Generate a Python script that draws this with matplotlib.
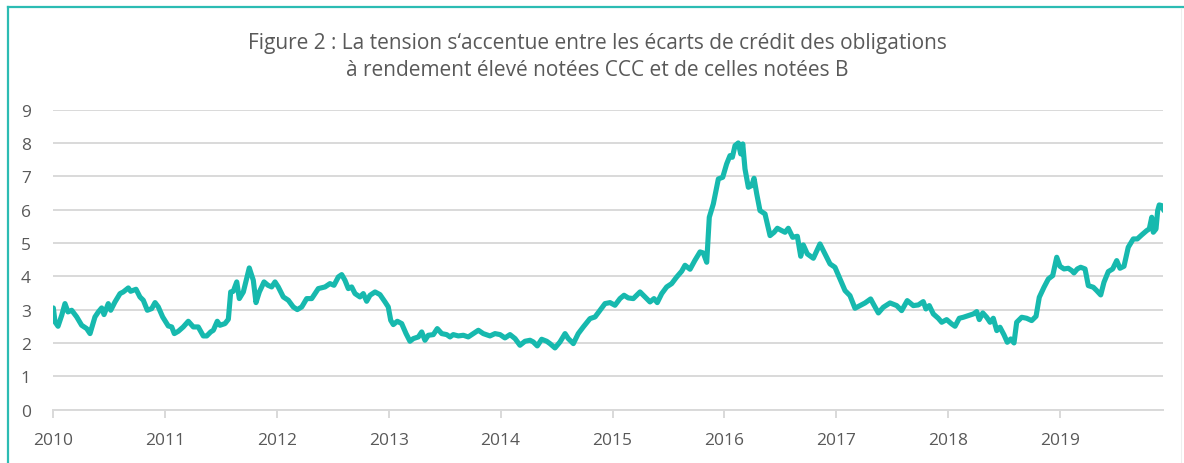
import matplotlib
matplotlib.use("Agg")
import matplotlib.pyplot as plt
from matplotlib.lines import Line2D

# Decimal years since 2010 and spread values (percentage points)
years_offset = [
    0.003, 0.018, 0.045, 0.078, 0.107, 0.134, 0.167, 0.212, 0.256, 0.301, 0.331, 0.375,
    0.405, 0.435, 0.456, 0.494, 0.516, 0.554, 0.599, 0.628, 0.673, 0.694, 0.742, 0.777,
    0.807, 0.843, 0.882, 0.912, 0.941, 0.980, 1.030, 1.061, 1.084, 1.120, 1.164, 1.209,
    1.254, 1.298, 1.343, 1.374, 1.409, 1.433, 1.468, 1.492, 1.537, 1.567, 1.588, 1.611,
    1.642, 1.665, 1.701, 1.754, 1.790, 1.814, 1.844, 1.886, 1.921, 1.954, 1.984, 2.013,
    2.058, 2.103, 2.147, 2.183, 2.223, 2.267, 2.312, 2.341, 2.371, 2.431, 2.475, 2.511,
    2.550, 2.580, 2.609, 2.639, 2.669, 2.699, 2.743, 2.773, 2.803, 2.833, 2.878, 2.922,
    2.967, 2.996, 3.018, 3.041, 3.077, 3.116, 3.155, 3.190, 3.220, 3.265, 3.295, 3.324,
    3.354, 3.399, 3.434, 3.474, 3.518, 3.548, 3.577, 3.622, 3.667, 3.711, 3.756, 3.801,
    3.845, 3.905, 3.950, 3.995, 4.039, 4.084, 4.129, 4.173, 4.218, 4.263, 4.292, 4.328,
    4.367, 4.412, 4.441, 4.486, 4.531, 4.576, 4.605, 4.650, 4.694, 4.739, 4.799, 4.844,
    4.888, 4.933, 4.978, 5.022, 5.067, 5.103, 5.141, 5.186, 5.246, 5.290, 5.335, 5.371,
    5.400, 5.440, 5.484, 5.529, 5.574, 5.618, 5.648, 5.693, 5.737, 5.782, 5.811, 5.842,
    5.865, 5.901, 5.946, 5.985, 6.020, 6.050, 6.071, 6.095, 6.124, 6.146, 6.164, 6.184,
    6.214, 6.244, 6.265, 6.289, 6.318, 6.363, 6.408, 6.444, 6.473, 6.512, 6.542, 6.571,
    6.610, 6.652, 6.682, 6.705, 6.741, 6.795, 6.854, 6.899, 6.944, 6.988, 7.033, 7.078,
    7.122, 7.167, 7.212, 7.257, 7.307, 7.331, 7.376, 7.420, 7.480, 7.540, 7.584, 7.634,
    7.688, 7.733, 7.777, 7.801, 7.831, 7.867, 7.911, 7.942, 7.986, 8.031, 8.061, 8.099,
    8.135, 8.180, 8.225, 8.255, 8.278, 8.309, 8.344, 8.374, 8.403, 8.434, 8.463, 8.499,
    8.528, 8.559, 8.588, 8.612, 8.657, 8.701, 8.746, 8.785, 8.814, 8.856, 8.895, 8.934,
    8.970, 8.999, 9.035, 9.073, 9.104, 9.124, 9.154, 9.184, 9.223, 9.252, 9.297, 9.327,
    9.363, 9.392, 9.431, 9.470, 9.506, 9.535, 9.571, 9.609, 9.654, 9.690, 9.729, 9.774,
    9.797, 9.819, 9.833, 9.857, 9.872, 9.886, 9.908, 9.928,
]
spread = [
    3.05, 2.63, 2.50, 2.83, 3.18, 2.93, 2.98, 2.78, 2.53, 2.43, 2.28, 2.78,
    2.93, 3.05, 2.85, 3.18, 2.98, 3.23, 3.48, 3.53, 3.65, 3.55, 3.61, 3.38,
    3.28, 2.98, 3.03, 3.21, 3.08, 2.78, 2.51, 2.48, 2.28, 2.35, 2.48, 2.65,
    2.48, 2.48, 2.21, 2.21, 2.33, 2.38, 2.65, 2.53, 2.58, 2.71, 3.53, 3.55,
    3.83, 3.33, 3.53, 4.25, 3.88, 3.21, 3.53, 3.83, 3.73, 3.68, 3.83, 3.68,
    3.38, 3.28, 3.08, 3.00, 3.08, 3.33, 3.33, 3.48, 3.63, 3.68, 3.78, 3.73,
    3.98, 4.05, 3.88, 3.63, 3.68, 3.48, 3.38, 3.48, 3.25, 3.43, 3.53, 3.45,
    3.23, 3.08, 2.68, 2.55, 2.65, 2.58, 2.28, 2.05, 2.13, 2.18, 2.33, 2.08,
    2.23, 2.25, 2.43, 2.28, 2.25, 2.18, 2.25, 2.21, 2.23, 2.18, 2.28, 2.38,
    2.28, 2.21, 2.28, 2.25, 2.15, 2.25, 2.13, 1.93, 2.05, 2.08, 2.03, 1.91,
    2.11, 2.05, 1.98, 1.85, 2.03, 2.28, 2.13, 1.98, 2.28, 2.48, 2.73, 2.78,
    2.98, 3.18, 3.21, 3.13, 3.33, 3.43, 3.35, 3.33, 3.53, 3.38, 3.23, 3.33,
    3.21, 3.48, 3.68, 3.78, 3.98, 4.15, 4.33, 4.21, 4.48, 4.73, 4.70, 4.42,
    5.77, 6.17, 6.92, 6.97, 7.37, 7.62, 7.57, 7.92, 8.00, 7.67, 7.97, 7.22,
    6.67, 6.72, 6.94, 6.47, 5.97, 5.87, 5.22, 5.32, 5.44, 5.37, 5.32, 5.44,
    5.17, 5.20, 4.60, 4.94, 4.67, 4.54, 4.97, 4.67, 4.37, 4.27, 3.92, 3.57,
    3.42, 3.04, 3.12, 3.20, 3.32, 3.17, 2.90, 3.07, 3.20, 3.12, 2.97, 3.27,
    3.12, 3.14, 3.24, 3.02, 3.12, 2.87, 2.74, 2.62, 2.70, 2.57, 2.50, 2.74,
    2.77, 2.82, 2.87, 2.94, 2.70, 2.90, 2.77, 2.62, 2.74, 2.37, 2.47, 2.24,
    2.02, 2.12, 2.00, 2.62, 2.77, 2.74, 2.67, 2.80, 3.37, 3.67, 3.92, 4.02,
    4.57, 4.30, 4.22, 4.24, 4.17, 4.10, 4.22, 4.27, 4.22, 3.72, 3.67, 3.57,
    3.44, 3.82, 4.14, 4.22, 4.47, 4.24, 4.30, 4.87, 5.12, 5.12, 5.24, 5.37,
    5.42, 5.77, 5.32, 5.42, 5.97, 6.14, 6.12, 5.97,
]
base_year = 2010
year_ticks = [2010, 2011, 2012, 2013, 2014, 2015, 2016, 2017, 2018, 2019]
y_ticks = [0, 1, 2, 3, 4, 5, 6, 7, 8, 9]
title_text = ("Figure 2 : La tension s\u2018accentue entre les écarts de crédit des obligations\n"
              "à rendement élevé notées CCC et de celles notées B")

plt.rcParams['font.family'] = ['Open Sans', 'DejaVu Sans']
TEXT = '#595959'
GRID = '#d9d9d9'
LINE = '#17b9ae'
BORDER = '#2cbcb3'

fig = plt.figure(figsize=(11.84, 4.64), dpi=100)
ax = fig.add_axes([53 / 1184, 1 - 410.6 / 464, (1163 - 53) / 1184, 300 / 464])

dates = [base_year + t for t in years_offset]
ax.plot(dates, spread, color=LINE, lw=3.7, solid_joinstyle='round', solid_capstyle='round', zorder=3)

ax.set_xlim(2010, 2010 + (1163 - 53) / 111.9)
ax.set_ylim(0, 9)
ax.set_yticks(y_ticks)
ax.set_xticks(year_ticks)
ax.set_xticklabels([str(y) for y in year_ticks])
ax.grid(axis='y', color=GRID, lw=1.4)
ax.set_axisbelow(True)
for s in ['top', 'right', 'left']:
    ax.spines[s].set_visible(False)
ax.spines['bottom'].set_color(GRID)
ax.spines['bottom'].set_linewidth(1.4)
ax.tick_params(axis='y', length=0, pad=16, labelsize=12.5, labelcolor=TEXT)
ax.tick_params(axis='x', length=6, width=1.4, color=GRID, pad=10, labelsize=12.5, labelcolor=TEXT)

fig.text(597 / 1184, 1 - 57 / 464, title_text, ha='center', va='center',
         fontsize=15, color=TEXT, linespacing=1.35)

# frame: teal on left and top, faint grey on the right
fig.add_artist(Line2D([7.5 / 1184, 7.5 / 1184], [0, 1 - 7.5 / 464], transform=fig.transFigure,
                      color=BORDER, lw=1.6))
fig.add_artist(Line2D([7.5 / 1184, 1], [1 - 7.5 / 464, 1 - 7.5 / 464], transform=fig.transFigure,
                      color=BORDER, lw=1.6))
fig.add_artist(Line2D([1181 / 1184, 1181 / 1184], [0, 1 - 9 / 464], transform=fig.transFigure,
                      color='#eeeeee', lw=0.8))

fig.savefig('out.png', dpi=100)
